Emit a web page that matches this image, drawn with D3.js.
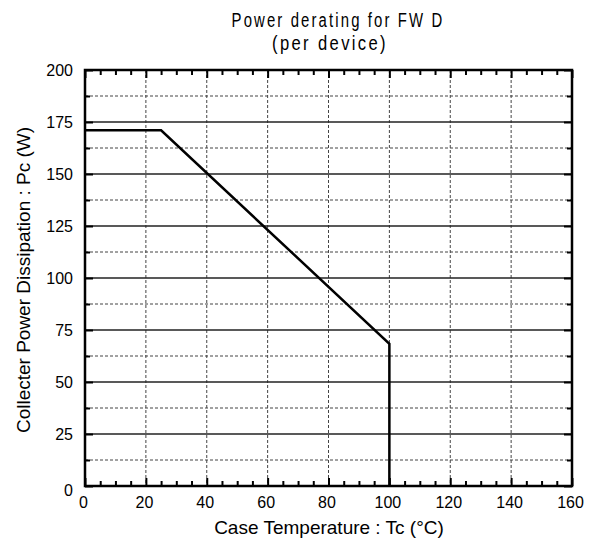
<!DOCTYPE html>
<html><head><meta charset="utf-8">
<script src="https://cdn.jsdelivr.net/npm/d3@7"></script>
<style>body{margin:0;background:#fff;} text{font-family:"Liberation Sans",Arial,sans-serif;fill:#000;}</style>
</head><body>
<svg id="c" width="599" height="543"></svg>
<script>
const tempC = [0, 25, 100, 100];
const powerW = [171, 171, 68.4, 0];
const xTicks = [0, 20, 40, 60, 80, 100, 120, 140, 160];
const yTicks = [0, 25, 50, 75, 100, 125, 150, 175, 200];
const yMinor = [12.5, 37.5, 62.5, 87.5, 112.5, 137.5, 162.5, 187.5];
const xMinor = d3.range(0, 161, 5).filter(v => v % 20 !== 0);

const svg = d3.select("#c");
const L = 85, R = 572, T = 70, B = 486;
const x = d3.scaleLinear().domain([0,160]).range([L,R]);
const y = d3.scaleLinear().domain([0,200]).range([B,T]);

// dashed grid
svg.append("g").selectAll("line").data(xTicks.filter(v=>v>0&&v<160)).join("line")
  .attr("x1",d=>x(d)).attr("x2",d=>x(d)).attr("y1",T).attr("y2",B)
  .attr("stroke","#444").attr("stroke-width",1).attr("stroke-dasharray","3,2");
svg.append("g").selectAll("line").data(yMinor).join("line")
  .attr("x1",L).attr("x2",R).attr("y1",d=>y(d)).attr("y2",d=>y(d))
  .attr("stroke","#444").attr("stroke-width",1).attr("stroke-dasharray","3,2");
// solid horizontal grid
svg.append("g").selectAll("line").data(yTicks.filter(v=>v>0&&v<200)).join("line")
  .attr("x1",L).attr("x2",R).attr("y1",d=>y(d)).attr("y2",d=>y(d))
  .attr("stroke","#222").attr("stroke-width",1.5);

// axes with inward ticks
const axB = d3.axisBottom(x).tickValues(xTicks).tickSize(-8).tickPadding(11).tickFormat(d3.format("d"));
const axL = d3.axisLeft(y).tickValues(yTicks).tickSize(-8).tickPadding(12).tickFormat(d3.format("d"));
const gB = svg.append("g").attr("transform",`translate(0,${B})`).call(axB);
const gL = svg.append("g").attr("transform",`translate(${L},0)`).call(axL);
const gT = svg.append("g").attr("transform",`translate(0,${T})`).call(d3.axisTop(x).tickValues(xTicks).tickSize(-8).tickFormat(""));
const gR = svg.append("g").attr("transform",`translate(${R},0)`).call(d3.axisRight(y).tickValues(yTicks).tickSize(-8).tickFormat(""));
const gBm = svg.append("g").attr("transform",`translate(0,${B})`).call(d3.axisBottom(x).tickValues(xMinor).tickSize(-5).tickFormat(""));
const gTm = svg.append("g").attr("transform",`translate(0,${T})`).call(d3.axisTop(x).tickValues(xMinor).tickSize(-5).tickFormat(""));
const gLm = svg.append("g").attr("transform",`translate(${L},0)`).call(d3.axisLeft(y).tickValues(yMinor).tickSize(-5).tickFormat(""));
const gRm = svg.append("g").attr("transform",`translate(${R},0)`).call(d3.axisRight(y).tickValues(yMinor).tickSize(-5).tickFormat(""));
[gB,gL,gT,gR,gBm,gTm,gLm,gRm].forEach(g=>{
  g.select(".domain").remove();
  g.selectAll("line").attr("stroke","#000").attr("stroke-width",2);
  g.selectAll("text").attr("font-size",16).attr("font-family","Liberation Sans, Arial, sans-serif");
});
gB.selectAll("text").attr("dx",-2);
gL.selectAll("text").filter(d=>d===0).attr("dy","0.6em");

// frame
svg.append("rect").attr("x",L).attr("y",T).attr("width",R-L).attr("height",B-T)
  .attr("fill","none").attr("stroke","#000").attr("stroke-width",2.5);

// data
const line = d3.line().x((d,i)=>x(tempC[i])).y((d,i)=>y(powerW[i]));
svg.append("path").datum(tempC).attr("d",line).attr("fill","none")
  .attr("stroke","#000").attr("stroke-width",2.5).attr("stroke-linejoin","miter");

// titles (narrow, letter-spaced)
function narrowTitle(str, cx, by, width){
  const t = svg.append("text").attr("x",0).attr("y",0).attr("text-anchor","middle")
    .attr("font-size",21).attr("letter-spacing","3px").text(str);
  const w = t.node().getBBox().width;
  t.attr("transform",`translate(${cx},${by}) scale(${width/w},1)`);
}
narrowTitle("Power derating for FW D", 338, 27, 213);
narrowTitle("(per device)", 330, 50, 116);

svg.append("text").attr("x",329).attr("y",534).attr("text-anchor","middle").attr("font-size",19)
  .text("Case Temperature : Tc (°C)");
svg.append("text").attr("transform","translate(30,280) rotate(-90)").attr("text-anchor","middle").attr("font-size",19)
  .text("Collecter Power Dissipation : Pc (W)");
</script>
</body></html>
